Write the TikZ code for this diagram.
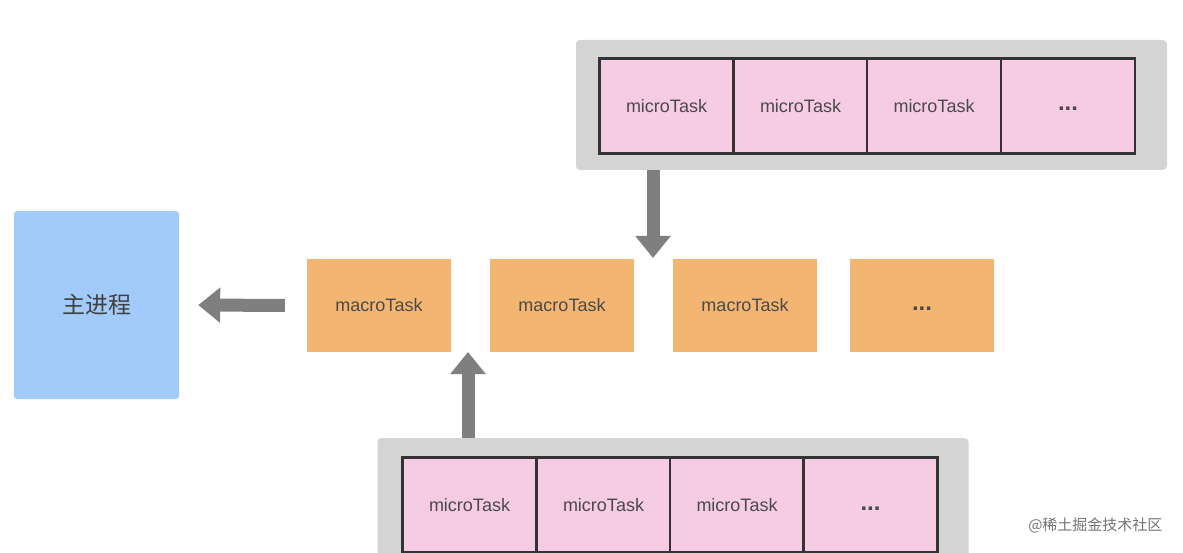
\documentclass[tikz,border=0pt]{standalone}
\usepackage{fontspec}
\setmainfont{Liberation Sans}
\newfontfamily\cjk{Noto Sans CJK SC}
\usetikzlibrary{arrows.meta}

\definecolor{mainblue}{HTML}{A3CBF9}
\definecolor{macroorange}{HTML}{F3B672}
\definecolor{micropink}{HTML}{F5CCE4}
\definecolor{queuegray}{HTML}{D4D4D4}
\definecolor{arrowgray}{HTML}{7F7F7F}
\definecolor{textgray}{HTML}{4A4A4A}

\tikzset{
  mainbox/.style={fill=mainblue, rounded corners=3pt, minimum width=165pt, minimum height=188pt, inner sep=0pt},
  macrobox/.style={fill=macroorange, minimum width=144pt, minimum height=93pt, inner sep=0pt,
    text=textgray, font=\fontsize{18}{20}\selectfont},
  microcell/.style={fill=micropink, draw=black!80, line width=2.2pt, minimum width=134pt, minimum height=95pt,
    inner sep=0pt, text=textgray, font=\fontsize{18}{20}\selectfont},
  queuebox/.style={fill=queuegray, rounded corners=4pt, minimum width=591pt, minimum height=130pt, inner sep=0pt},
  bigarrow/.style={draw=arrowgray, line width=13pt, -{Triangle[width=34pt,length=22pt]}, arrowgray}
}
\newcommand{\moredots}{\raisebox{-5pt}[0pt][0pt]{\fontsize{24}{24}\selectfont\bfseries ...}}

\begin{document}
\begin{tikzpicture}[x=1pt,y=-1pt]
\useasboundingbox (0,0) rectangle (1183,553);
\clip (0,0) rectangle (1183,553);

% main process
\node[mainbox, font=\cjk\fontsize{23}{25}\selectfont, text=black!75] (main) at (96.5,305) {主进程};

% macro task queue
\node[macrobox] (ma1) at (379,305.5) {macroTask};
\node[macrobox] (ma2) at (562,305.5) {macroTask};
\node[macrobox] (ma3) at (745,305.5) {macroTask};
\node[macrobox] (ma4) at (922,305.5) {\moredots};

% micro task queue, top
\node[queuebox] (topq) at (871.5,105) {};
\node[microcell] (mt1) at (666.5,106) {microTask};
\node[microcell] (mt2) at (800.5,106) {microTask};
\node[microcell] (mt3) at (934,106) {microTask};
\node[microcell] (mt4) at (1068,106) {\moredots};

% micro task queue, bottom
\node[queuebox] (botq) at (673,503) {};
\node[microcell] (mb1) at (469.5,505) {microTask};
\node[microcell] (mb2) at (603.5,505) {microTask};
\node[microcell] (mb3) at (737,505) {microTask};
\node[microcell] (mb4) at (870.5,505) {\moredots};

% arrows
\coordinate (toptip) at (653,258);
\coordinate (bottip) at (468,352);
\draw[bigarrow] (topq.south -| toptip) -- (toptip);
\draw[bigarrow] (botq.north -| bottip) -- (bottip);
\draw[bigarrow, shorten <=22pt, shorten >=19pt] (ma1.west) -- (main.east);

% watermark
\node[anchor=east, text=black!55, font=\cjk\fontsize{15}{17}\selectfont] (mark) at (1166,525) {@稀土掘金技术社区};
\end{tikzpicture}
\end{document}
